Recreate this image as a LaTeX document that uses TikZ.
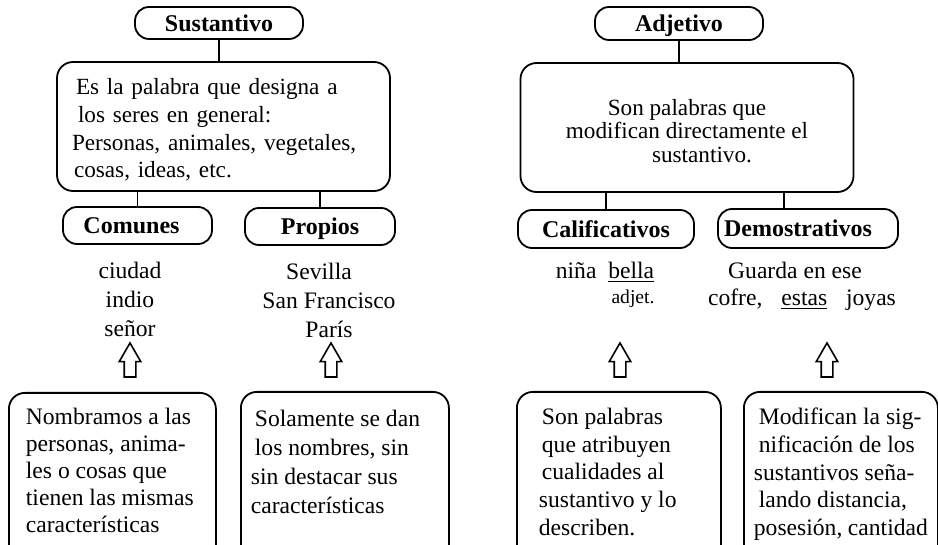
\documentclass[tikz,border=0pt]{standalone}
\usepackage{fontspec}
\setmainfont{Liberation Serif}
\usepackage{tikz}
\usetikzlibrary{calc}
\usetikzlibrary{shapes.arrows}
\tikzstyle{pillbox} = [draw=black, line width=0.9pt, rectangle, rounded corners=7pt,
inner sep=0pt, text height=9pt, text depth=0.5pt, font=\fontsize{12}{14}\selectfont\bfseries]
\tikzstyle{defbox} = [draw=black, line width=0.9pt, rectangle, rounded corners=8pt,
minimum width=166.5pt, minimum height=64.5pt]
\tikzstyle{notebox} = [draw=black, line width=0.9pt, rectangle, rounded corners=8pt,
anchor=north west]
\tikzstyle{examp} = [align=center, font=\fontsize{11.8}{14.5}\selectfont]
\tikzstyle{upmark} = [draw=black, line width=0.8pt, single arrow, shape border rotate=90,
single arrow head extend=2.5pt, single arrow tip angle=60, inner sep=2.5pt, minimum height=17pt]
\tikzstyle{link} = [draw=black, line width=0.8pt]

\begin{document}
\begin{tikzpicture}[x=0.5pt, y=-0.5pt]
        \clip (0,0) rectangle (938,545);
        % sustantivo
        \node[pillbox, minimum width=84pt, minimum height=16pt] (sust) at (219,23) {Sustantivo};
        \node[defbox, text width=151.5pt, inner xsep=7.5pt, align=left,
            font=\fontsize{11.6}{13.9}\selectfont] (defsust) at (223.5,126.5)
            {\rule{0pt}{11.5pt}\hspace*{2pt}Es la palabra que designa a\\
             \hspace*{3pt}los seres en general:\\
             Personas, animales, vegetales,\\
             \hspace*{1pt}cosas, ideas, etc.};
        \node[pillbox, minimum width=74.5pt, minimum height=18.5pt] (com) at (137.5,225.5) {Comunes\hspace*{6pt}};
        \node[pillbox, minimum width=75pt, minimum height=18.5pt] (prop) at (320,226.5) {Propios};
        \draw[link] (sust) -- (sust |- defsust.north);
        \draw[link] (com |- defsust.south) -- (com);
        \draw[link] (prop |- defsust.south) -- (prop);
        \node[examp] (excom) at (130,299) {ciudad\\indio\\señor};
        \node[examp] (exprop) at (329,300) {Sevilla\hspace*{10pt}\\San Francisco\\París};
        \node[upmark] (upcom) at (130,365) {};
        \node[upmark] (upprop) at (331,365) {};
        \node[notebox, inner xsep=8.5pt, inner ysep=7.5pt] (nomcom) at (8,392) {%
            \begin{minipage}[t][85pt][t]{86.5pt}
                \fontsize{11.8}{13.5}\selectfont
                Nombramos a las\\personas, anima-\\les o cosas que\\tienen las mismas\\características
            \end{minipage}
        };
        \node[notebox, inner xsep=7pt, inner ysep=9pt] (nomprop) at (240,391) {%
            \begin{minipage}[t][85pt][t]{90pt}
                \fontsize{11.8}{14.5}\selectfont
                Solamente se dan\\los nombres, sin\\\hspace*{-2pt}sin destacar sus\\\hspace*{-2pt}características
            \end{minipage}
        };
        % adjetivo
        \node[pillbox, minimum width=84pt, minimum height=16.5pt] (adj) at (679,23.5) {Adjetivo};
        \node[defbox, align=center, font=\fontsize{11.6}{11.8}\selectfont] (defadj) at (687,127.5)
            {\rule{0pt}{11.5pt}Son palabras que\\modifican directamente el\\\hspace*{15pt}sustantivo.};
        \node[pillbox, minimum width=88pt, minimum height=19pt] (calif) at (606,229) {Calificativos};
        \node[pillbox, minimum width=90pt, minimum height=19.5pt] (demo) at (808,228.5) {Demostrativos\hspace*{10pt}};
        \coordinate (demotop) at ($(demo.north)+(-24,0)$);
        \draw[link] (adj) -- (adj |- defadj.north);
        \draw[link] (calif |- defadj.south) -- (calif);
        \draw[link] (demotop |- defadj.south) -- (demotop);
        \node[examp] (excalif) at (605,272) {niña\enskip\underline{bella}};
        \node[examp, font=\fontsize{9.8}{12}\selectfont] (adjnote) at (633,299) {adjet.};
        \node[examp, font=\fontsize{11.8}{13.5}\selectfont] (exdemo) at (802,286)
            {Guarda en ese\hspace*{7pt}\\cofre,\hspace{0.8em}\underline{estas}\hspace{0.8em}joyas};
        \node[upmark] (upcalif) at (620,365) {};
        \node[upmark] (updemo) at (827,365) {};
        \node[notebox, inner xsep=12.5pt, inner ysep=8pt] (descalif) at (516,391) {%
            \begin{minipage}[t][85pt][t]{77pt}
                \fontsize{11.8}{13.9}\selectfont
                Son palabras\\que atribuyen\\cualidades al\\\hspace*{-1.5pt}sustantivo y lo\\\hspace*{-1.5pt}describen.
            \end{minipage}
        };
        \node[notebox, inner xsep=5pt, inner ysep=8pt] (descdemo) at (743,391) {%
            \begin{minipage}[t][85pt][t]{87pt}
                \fontsize{11.8}{13.9}\selectfont
                \hspace*{2.5pt}Modifican la sig-\\\hspace*{2.5pt}nificación de los\\sustantivos seña-\\\hspace*{2.5pt}lando distancia,\\posesión, cantidad
            \end{minipage}
        };
\end{tikzpicture}
\end{document}
